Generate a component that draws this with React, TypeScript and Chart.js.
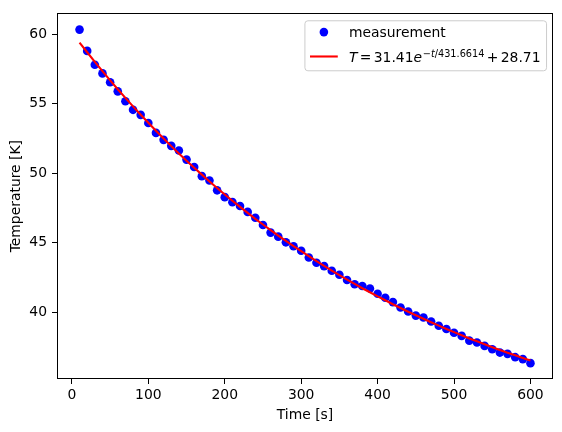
import React, { useEffect, useRef } from "react";
import { Chart, registerables } from "chart.js";

Chart.register(...registerables);

const timeSeconds = [
  10, 20, 30, 40, 50, 60, 70, 80, 90, 100,
  110, 120, 130, 140, 150, 160, 170, 180, 190, 200,
  210, 220, 230, 240, 250, 260, 270, 280, 290, 300,
  310, 320, 330, 340, 350, 360, 370, 380, 390, 400,
  410, 420, 430, 440, 450, 460, 470, 480, 490, 500,
  510, 520, 530, 540, 550, 560, 570, 580, 590, 600,
];

const measuredTemps = [
  60.33, 58.8, 57.8, 57.18, 56.54, 55.89, 55.18, 54.56, 54.2, 53.61,
  52.9, 52.4, 51.97, 51.64, 50.98, 50.45, 49.79, 49.48, 48.77, 48.28,
  47.92, 47.64, 47.22, 46.8, 46.28, 45.73, 45.44, 45.03, 44.75, 44.42,
  43.94, 43.56, 43.32, 42.99, 42.7, 42.32, 42.01, 41.89, 41.71, 41.33,
  41.04, 40.73, 40.34, 40.05, 39.76, 39.62, 39.34, 39.03, 38.8, 38.53,
  38.3, 37.96, 37.82, 37.58, 37.34, 37.1, 37.01, 36.77, 36.63, 36.34,
];

const fitTemps = [
  59.4, 58.7, 58.01, 57.34, 56.68, 56.04, 55.42, 54.81, 54.21, 53.63,
  53.05, 52.5, 51.95, 51.42, 50.9, 50.39, 49.9, 49.41, 48.94, 48.47,
  48.02, 47.58, 47.15, 46.72, 46.31, 45.91, 45.51, 45.13, 44.75, 44.39,
  44.03, 43.68, 43.33, 43.0, 42.67, 42.35, 42.04, 41.73, 41.44, 41.14,
  40.86, 40.58, 40.31, 40.04, 39.78, 39.53, 39.28, 39.04, 38.8, 38.57,
  38.34, 38.12, 37.91, 37.7, 37.49, 37.29, 37.09, 36.9, 36.71, 36.53,
];

const xTickValues = [0, 100, 200, 300, 400, 500, 600];
const yTickValues = [40, 45, 50, 55, 60];

const xTitle = "Time [s]";
const yTitle = "Temperature [K]";
const measurementLabel = "measurement";

const FONT = '"DejaVu Sans"';
const FS = 13.9;

function drawFormula(ctx: CanvasRenderingContext2D, x: number, y: number, draw: boolean): number {
  const sup = FS * 0.7;
  const pieces: { t: string; italic?: boolean; size: number; rise: number; gapBefore?: number }[] = [
    { t: "T", italic: true, size: FS, rise: 0 },
    { t: "=", size: FS, rise: 0, gapBefore: 0.17 * FS },
    { t: "31.41", size: FS, rise: 0, gapBefore: 0.17 * FS },
    { t: "e", italic: true, size: FS, rise: 0 },
    { t: "\u2212", size: sup, rise: 0.37 * FS, gapBefore: 0.05 * FS },
    { t: "t", italic: true, size: sup, rise: 0.37 * FS },
    { t: "/431.6614", size: sup, rise: 0.37 * FS },
    { t: "+", size: FS, rise: 0, gapBefore: 0.17 * FS },
    { t: "28.71", size: FS, rise: 0, gapBefore: 0.17 * FS },
  ];
  let cx = x;
  for (const p of pieces) {
    cx += p.gapBefore || 0;
    ctx.font = `${p.italic ? "italic " : ""}${p.size}px ${FONT}`;
    if (draw) ctx.fillText(p.t, cx, y - p.rise);
    cx += ctx.measureText(p.t).width;
  }
  return cx - x;
}

const framePlugin = {
  id: "mplFrame",
  afterDraw(chart: any) {
    const { ctx, chartArea } = chart;
    ctx.save();
    ctx.strokeStyle = "#000";
    ctx.lineWidth = 1;
    const l = Math.round(chartArea.left) + 0.5;
    const t = Math.round(chartArea.top) + 0.5;
    const r = Math.round(chartArea.right) - 0.5;
    const b = Math.round(chartArea.bottom) - 0.5;
    ctx.strokeRect(l, t, r - l, b - t);
    ctx.restore();
  },
};

const legendPlugin = {
  id: "mplLegend",
  afterDraw(chart: any) {
    const { ctx, chartArea } = chart;
    ctx.save();
    ctx.font = `${FS}px ${FONT}`;
    const w1 = ctx.measureText(measurementLabel).width;
    const w2 = drawFormula(ctx, 0, 0, false);
    const textW = Math.max(w1, w2);
    const pad = 0.4 * FS;
    const handle = 2 * FS;
    const hpad = 0.8 * FS;
    const boxW = pad + handle + hpad + textW + pad;
    const boxH = 50;
    const right = chartArea.right - 0.5 * FS;
    const top = chartArea.top + 0.5 * FS;
    const left = right - boxW;
    ctx.beginPath();
    if ((ctx as any).roundRect) {
      (ctx as any).roundRect(left + 0.5, top + 0.5, boxW, boxH, 3);
    } else {
      ctx.rect(left + 0.5, top + 0.5, boxW, boxH);
    }
    ctx.fillStyle = "rgba(255,255,255,0.8)";
    ctx.fill();
    ctx.strokeStyle = "#cccccc";
    ctx.lineWidth = 1;
    ctx.stroke();

    const row1 = top + 11.8;
    const row2 = top + 36.2;
    const hx0 = left + pad;
    const hx1 = hx0 + handle;
    ctx.fillStyle = "#0000ff";
    ctx.beginPath();
    ctx.arc((hx0 + hx1) / 2, row1, 4.3, 0, Math.PI * 2);
    ctx.fill();
    ctx.strokeStyle = "#ff0000";
    ctx.lineWidth = 2.1;
    ctx.beginPath();
    ctx.moveTo(hx0, row2);
    ctx.lineTo(hx1, row2);
    ctx.stroke();

    const tx = hx1 + hpad;
    ctx.fillStyle = "#000";
    ctx.textBaseline = "alphabetic";
    ctx.textAlign = "left";
    ctx.font = `${FS}px ${FONT}`;
    ctx.fillText(measurementLabel, tx, row1 + 5.4);
    drawFormula(ctx, tx, row2 + 5.2, true);
    ctx.restore();
  },
};

export default function App() {
  const canvasRef = useRef<HTMLCanvasElement | null>(null);

  useEffect(() => {
    if (!canvasRef.current) return;
    Chart.defaults.font.family = FONT;
    Chart.defaults.font.size = FS;
    Chart.defaults.color = "#000";
    const chart = new Chart(canvasRef.current, {
      type: "scatter",
      data: {
        datasets: [
          {
            label: "fit",
            data: timeSeconds.map((t, i) => ({ x: t, y: fitTemps[i] })),
            showLine: true,
            borderColor: "#ff0000",
            borderWidth: 2.1,
            pointRadius: 0,
            pointHoverRadius: 0,
            tension: 0,
            order: 0,
          },
          {
            label: measurementLabel,
            data: timeSeconds.map((t, i) => ({ x: t, y: measuredTemps[i] })),
            showLine: false,
            backgroundColor: "#0000ff",
            borderColor: "#0000ff",
            borderWidth: 0,
            pointRadius: 4.3,
            pointHoverRadius: 4.3,
            order: 1,
          },
        ],
      },
      options: {
        animation: false,
        responsive: false,
        events: [],
        layout: { padding: { left: 0, right: 9, top: 10, bottom: 0 } },
        plugins: {
          legend: { display: false },
          tooltip: { enabled: false },
        },
        scales: {
          x: {
            type: "linear",
            min: -19.5,
            max: 629.5,
            afterFit: (scale: any) => {
              scale.height = 53;
            },
            afterBuildTicks: (scale: any) => {
              scale.ticks = xTickValues.map((v) => ({ value: v }));
            },
            grid: {
              drawOnChartArea: false,
              drawTicks: true,
              tickLength: 5,
              color: "#000",
              lineWidth: 1,
            },
            border: { display: false },
            ticks: {
              color: "#000",
              font: { family: FONT, size: FS },
              padding: 3,
              maxRotation: 0,
              autoSkip: false,
            },
            title: {
              display: true,
              text: xTitle,
              color: "#000",
              font: { family: FONT, size: FS },
              padding: { top: 0, bottom: 8.7 },
            },
          },
          y: {
            type: "linear",
            min: 35.2,
            max: 61.5,
            afterFit: (scale: any) => {
              scale.width = 57;
            },
            afterBuildTicks: (scale: any) => {
              scale.ticks = yTickValues.map((v) => ({ value: v }));
            },
            grid: {
              drawOnChartArea: false,
              drawTicks: true,
              tickLength: 5,
              color: "#000",
              lineWidth: 1,
            },
            border: { display: false },
            ticks: {
              color: "#000",
              font: { family: FONT, size: FS },
              padding: 5,
              autoSkip: false,
            },
            title: {
              display: true,
              text: yTitle,
              color: "#000",
              font: { family: FONT, size: FS },
              padding: { top: 7.7, bottom: 0 },
            },
          },
        },
      },
      plugins: [framePlugin, legendPlugin],
    } as any);
    return () => chart.destroy();
  }, []);

  return (
    <div style={{ position: "absolute", left: 0, top: 0, width: 562, height: 432, background: "#fff" }}>
      <canvas ref={canvasRef} width={562} height={432} style={{ width: 562, height: 432, display: "block" }} />
    </div>
  );
}
